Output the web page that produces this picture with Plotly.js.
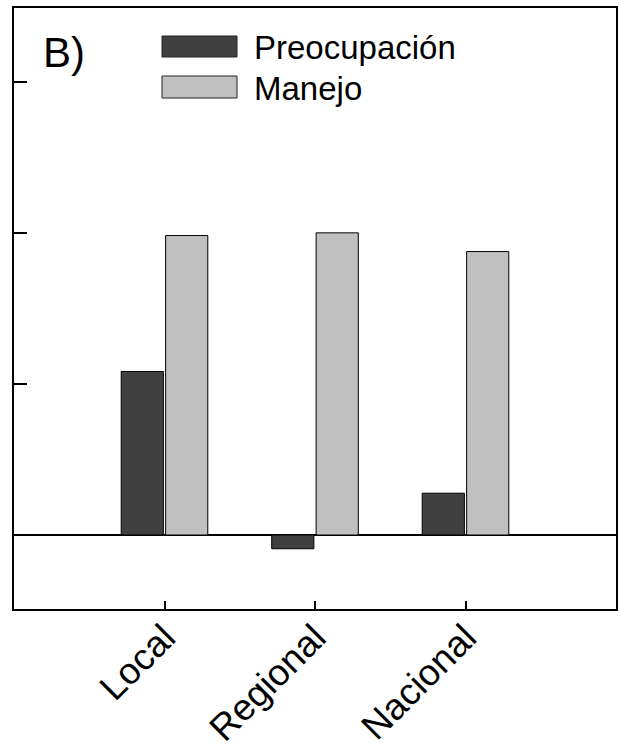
<!DOCTYPE html>
<html>
<head>
<meta charset="utf-8">
<script src="https://cdn.plot.ly/plotly-3.0.1.min.js"></script>
<style>html,body{margin:0;padding:0;background:#fff;}#chart{width:619px;height:754px;}</style>
</head>
<body>
<div id="chart"></div>
<script>
const categories = ["Local", "Regional", "Nacional"];
const preocupacion = [1.083, -0.091, 0.277];
const manejo = [1.983, 2.001, 1.877];
const seriesNames = ["Preocupación", "Manejo"];
const panelLabel = "B)";

const darkFill = "#404040";
const lightFill = "#c0c0c0";
const font = "Liberation Sans, Arial, sans-serif";

const traces = [
  {type: "bar", x: categories, y: preocupacion, name: seriesNames[0],
   marker: {color: darkFill, line: {color: "#000", width: 1}}, showlegend: false},
  {type: "bar", x: categories, y: manejo, name: seriesNames[1],
   marker: {color: lightFill, line: {color: "#000", width: 1}}, showlegend: false}
];

function px2x(px){ return (px - 14) / 602; }
function px2y(py){ return (609 - py) / 601; }

const layout = {
  width: 619, height: 754,
  margin: {l: 14, r: 3, t: 8, b: 145},
  paper_bgcolor: "#fff", plot_bgcolor: "#fff",
  barmode: "group", bargap: 0.41, bargroupgap: 0.05,
  font: {family: font, color: "#000"},
  xaxis: {
    type: "category", range: [-1, 3],
    showline: true, linecolor: "#000", linewidth: 2, mirror: true,
    ticks: "inside", ticklen: 8, tickwidth: 2, tickcolor: "#000",
    tickangle: -45, tickfont: {size: 37, family: font, color: "#000"},
    ticklabelstandoff: -10,
    showgrid: false, zeroline: false
  },
  yaxis: {
    range: [-0.49, 3.49], dtick: 1, tick0: 0,
    showline: true, linecolor: "#000", linewidth: 2, mirror: true,
    ticks: "inside", ticklen: 13, tickwidth: 2, tickcolor: "#000",
    showticklabels: false, showgrid: false,
    zeroline: true, zerolinecolor: "#000", zerolinewidth: 2
  },
  shapes: [
    {type: "rect", xref: "paper", yref: "paper", x0: px2x(162), x1: px2x(237), y0: px2y(57), y1: px2y(36),
     fillcolor: darkFill, line: {color: "#222", width: 1}},
    {type: "rect", xref: "paper", yref: "paper", x0: px2x(162), x1: px2x(237), y0: px2y(98), y1: px2y(76),
     fillcolor: lightFill, line: {color: "#222", width: 1}}
  ],
  annotations: [
    {xref: "paper", yref: "paper", x: px2x(252), y: px2y(47), xanchor: "left", yanchor: "middle",
     text: seriesNames[0], showarrow: false, font: {size: 33, family: font, color: "#000"}},
    {xref: "paper", yref: "paper", x: px2x(252), y: px2y(88), xanchor: "left", yanchor: "middle",
     text: seriesNames[1], showarrow: false, font: {size: 33, family: font, color: "#000"}},
    {xref: "paper", yref: "paper", x: px2x(41), y: px2y(52), xanchor: "left", yanchor: "middle",
     text: panelLabel, showarrow: false, font: {size: 42, family: font, color: "#000"}}
  ]
};

Plotly.newPlot("chart", traces, layout, {displayModeBar: false, staticPlot: true});
</script>
</body>
</html>
